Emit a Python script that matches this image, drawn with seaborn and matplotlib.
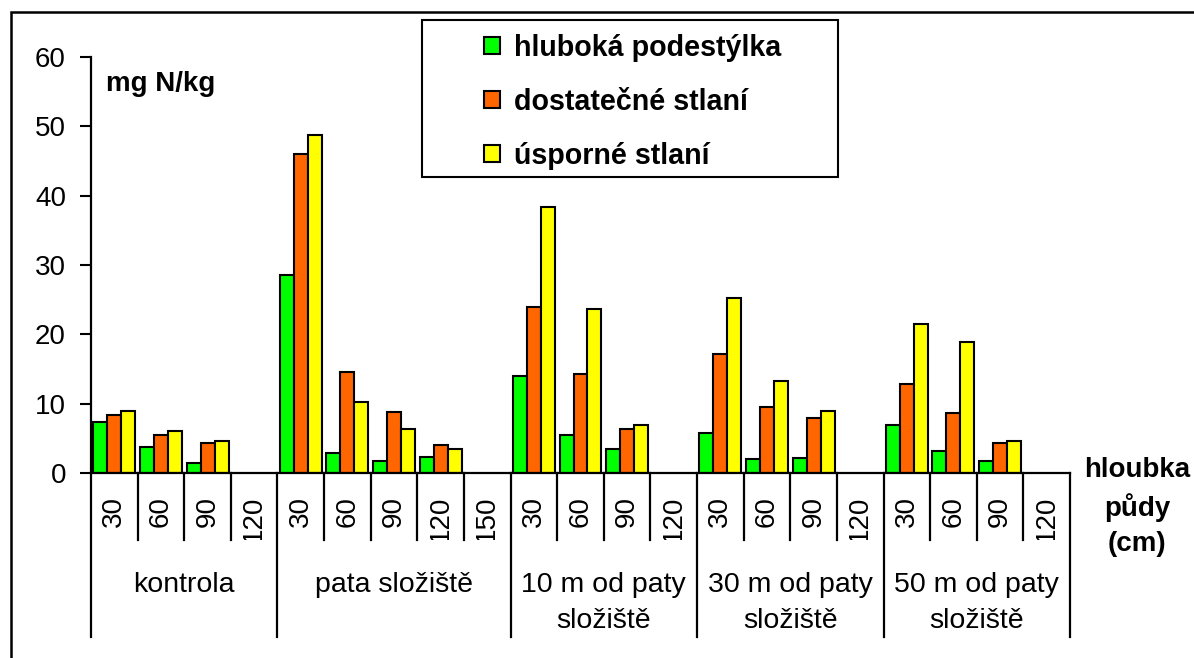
import numpy as np
import pandas as pd
import matplotlib
matplotlib.use('Agg')
import matplotlib.pyplot as plt
import seaborn as sns
from matplotlib.patches import Rectangle
from matplotlib.transforms import Bbox, TransformedBbox, blended_transform_factory

plt.rcParams['font.family'] = 'Liberation Sans'
plt.rcParams['axes.unicode_minus'] = False

nan = np.nan

groups = ['kontrola', 'pata složiště', '10 m od paty\nsložiště',
          '30 m od paty\nsložiště', '50 m od paty\nsložiště']
depths = [[30, 60, 90, 120],
          [30, 60, 90, 120, 150],
          [30, 60, 90, 120],
          [30, 60, 90, 120],
          [30, 60, 90, 120]]

series = ['hluboká podestýlka', 'dostatečné stlaní', 'úsporné stlaní']
hluboka = [7.4, 3.7, 1.4, nan, 28.6, 2.9, 1.7, 2.3, nan, 14.0, 5.5, 3.5, nan,
           5.8, 2.0, 2.1, nan, 6.9, 3.2, 1.8, nan]
dostatecne = [8.3, 5.5, 4.3, nan, 46.0, 14.6, 8.8, 4.0, nan, 24.0, 14.3, 6.3, nan,
              17.2, 9.5, 8.0, nan, 12.9, 8.6, 4.3, nan]
usporne = [8.9, 6.1, 4.6, nan, 48.8, 10.3, 6.3, 3.4, nan, 38.3, 23.7, 6.9, nan,
           25.2, 13.2, 8.9, nan, 21.5, 18.9, 4.6, nan]
colors = ['#00FF00', '#FF6600', '#FFFF00']

# build long table
cats = []
tick_labels = []
for g, ds in zip(groups, depths):
    for d in ds:
        cats.append(f'{g}|{d}')
        tick_labels.append(str(d))

rows = []
for name, vals in zip(series, [hluboka, dostatecne, usporne]):
    for c, v in zip(cats, vals):
        rows.append({'cat': c, 'series': name, 'val': v})
df = pd.DataFrame(rows)

W, H = 1194, 658
fig = plt.figure(figsize=(W / 100, H / 100), dpi=100)
ax = fig.add_axes([91 / W, 1 - 473 / H, (1070 - 91) / W, (473 - 57) / H])

sns.barplot(data=df, x='cat', y='val', hue='series', order=cats, hue_order=series,
            palette=colors, saturation=1, edgecolor='black', linewidth=1.5,
            width=0.9, errorbar=None, ax=ax)

ax.set_xlim(-0.5, len(cats) - 0.5)
ax.set_ylim(0, 60)
ax.set_yticks(range(0, 61, 10))
ax.tick_params(axis='y', labelsize=20, length=8, width=1.5, pad=10)
ax.tick_params(axis='x', length=0, labelbottom=False)
ax.set_xlabel('')
ax.set_ylabel('')
for s in ['top', 'right']:
    ax.spines[s].set_visible(False)
for s in ['left', 'bottom']:
    ax.spines[s].set_linewidth(1.6)

# category separators and labels below axis
trans = blended_transform_factory(ax.transData, ax.transAxes)
short_y = -(540 - 473) / (473 - 57)
long_y = -(637 - 473) / (473 - 57)
bounds = np.cumsum([0] + [len(d) for d in depths]) - 0.5
for i in range(len(cats) + 1):
    x = i - 0.5
    y_end = long_y if x in bounds else short_y
    ax.plot([x, x], [0, y_end], color='black', lw=1.6, transform=trans, clip_on=False)

clipbox = TransformedBbox(Bbox([[-0.5, short_y], [len(cats) - 0.5, 0]]), trans)
top_y = -(496 - 473) / (473 - 57)
for i, lab in enumerate(tick_labels):
    t = ax.text(i, top_y, lab, rotation=90, ha='center', va='top', fontsize=20,
                transform=trans)
    t.set_clip_box(clipbox)
    t.set_clip_on(True)

grp_y = -(572 - 473) / (473 - 57)
for g, a, b in zip(groups, bounds[:-1], bounds[1:]):
    ax.text((a + b) / 2, grp_y, g, ha='center', va='top', fontsize=20.5,
            linespacing=1.5, transform=trans, clip_on=False)

ax.text(0.015, 0.935, 'mg N/kg', transform=ax.transAxes, fontsize=20,
        fontweight='bold', va='center', ha='left')

fig.text(1137 / W, 1 - 507 / H, 'hloubka\npůdy\n(cm)', ha='center', va='center',
         fontsize=20, fontweight='bold', linespacing=1.47)

# legend
handles, labels = ax.get_legend_handles_labels()
ax.get_legend().remove()
leg = fig.legend(handles, labels, loc='upper left',
                 bbox_to_anchor=(484 / W, 1 - 34 / H), frameon=False,
                 prop={'size': 20.6, 'weight': 'bold'}, handlelength=0.55,
                 handleheight=0.55, handletextpad=0.5, labelspacing=0.9,
                 borderpad=0, borderaxespad=0)
fig.patches.append(Rectangle((422 / W, 1 - 177 / H), (838 - 422) / W, (177 - 20) / H,
                             transform=fig.transFigure, fill=False,
                             edgecolor='black', lw=1.5))

# outer frame
fig.patches.append(Rectangle((11 / W, -0.05), 1.1, 1 - 12 / H + 0.05,
                             transform=fig.transFigure, fill=False,
                             edgecolor='black', lw=1.8, clip_on=False))

fig.savefig('out.png', dpi=100)
